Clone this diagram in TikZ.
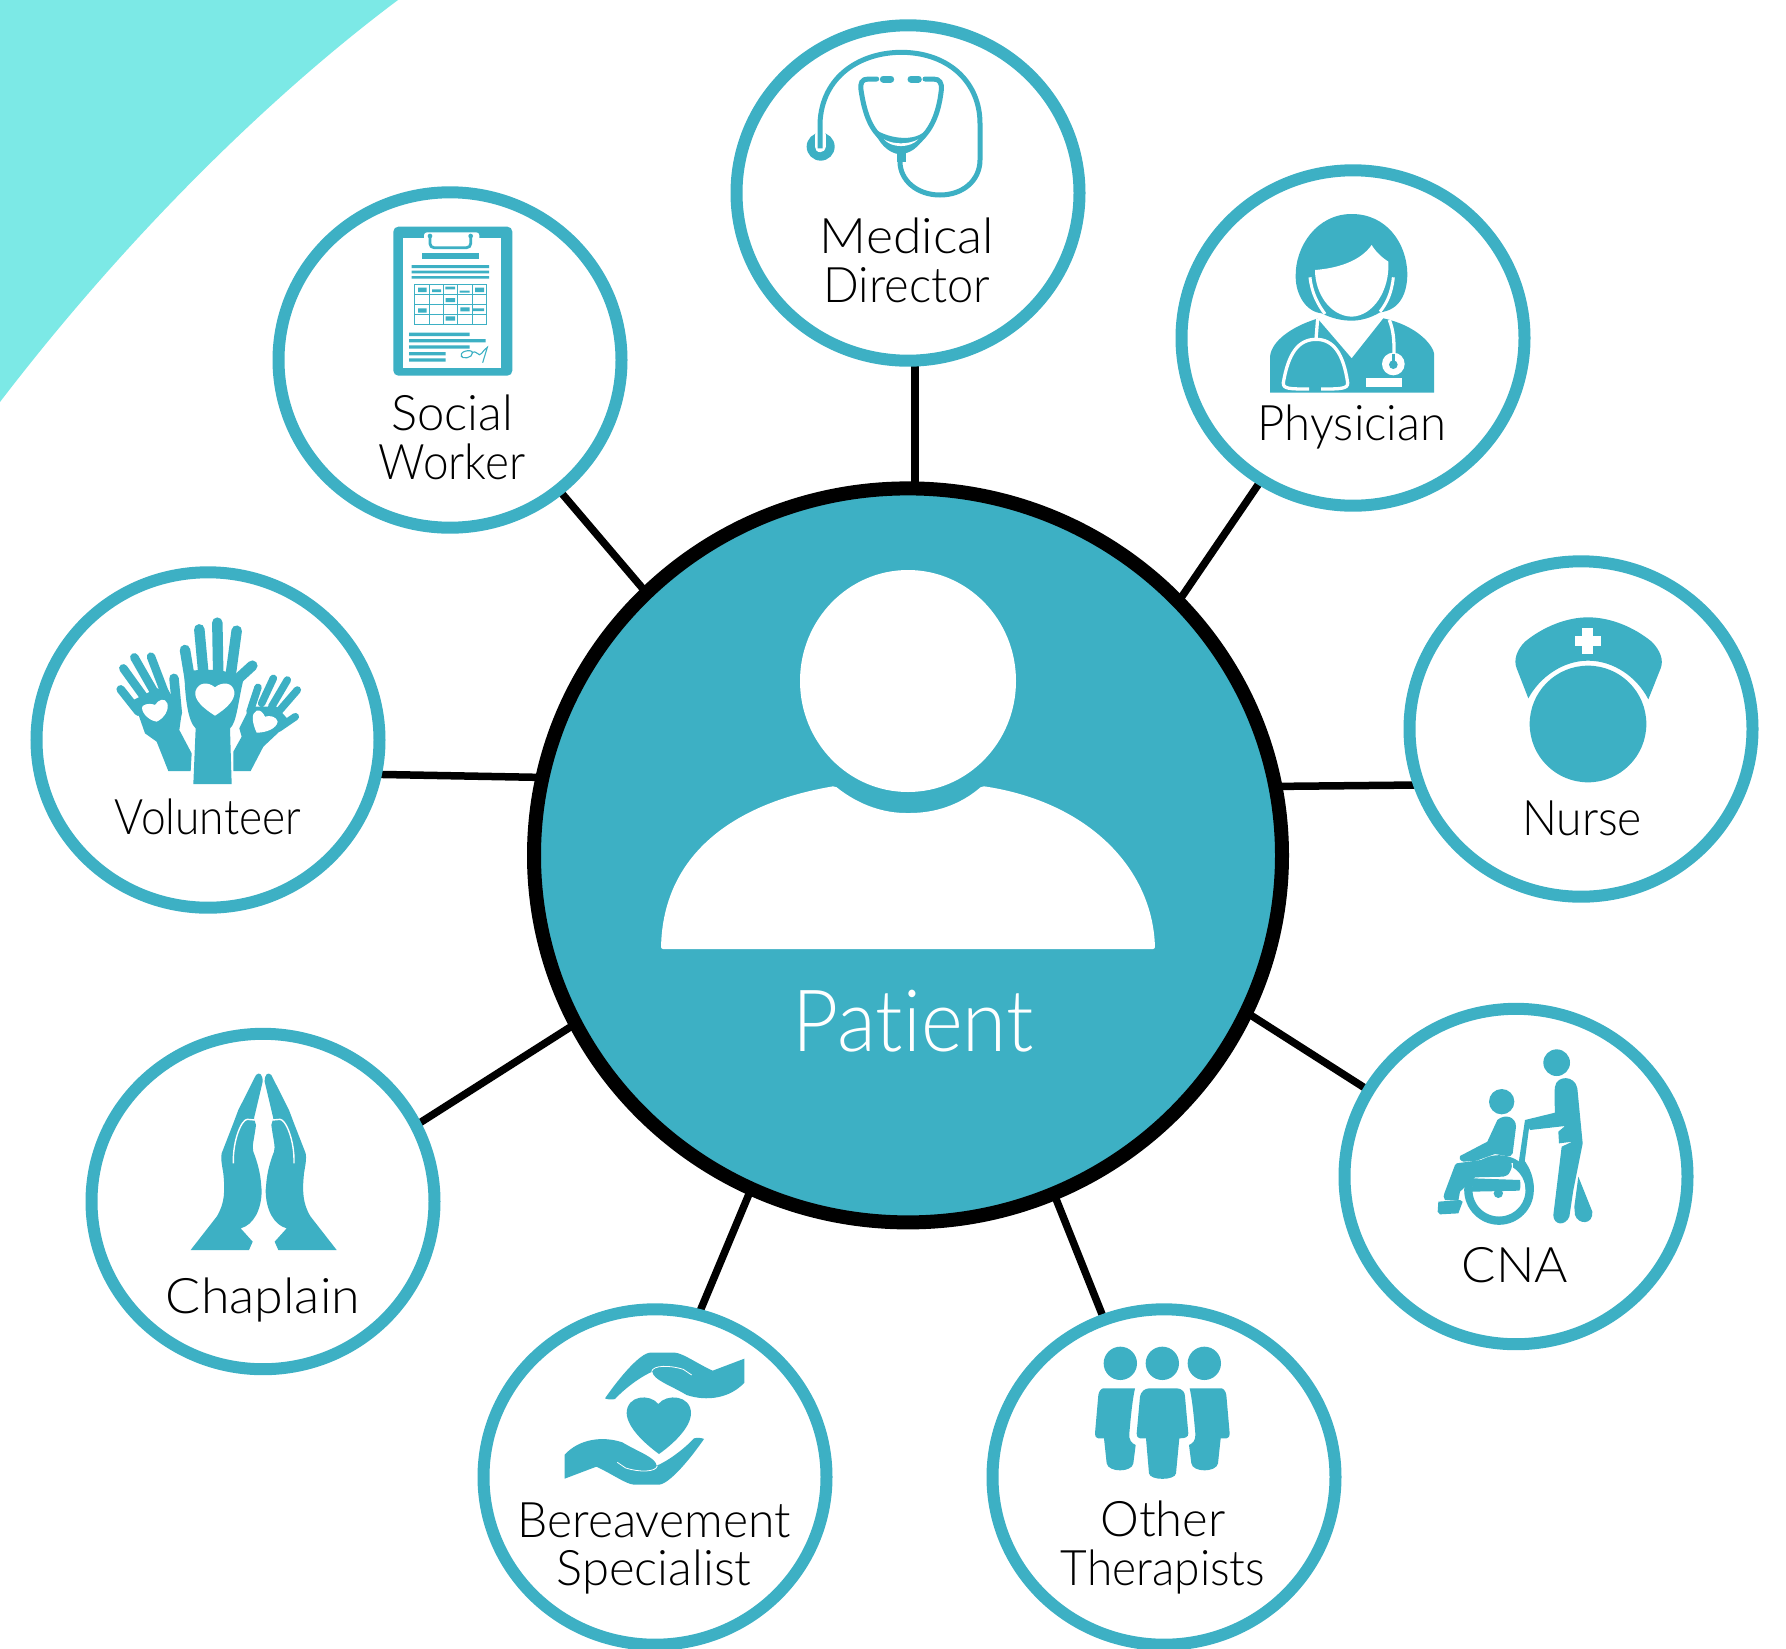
\documentclass[tikz,border=0pt]{standalone}
\usepackage{fontspec}
\usetikzlibrary{backgrounds,shapes.geometric}
\newfontfamily\labfont[Ligatures=NoCommon]{Lato Light}
\definecolor{tealc}{HTML}{3DB0C4}
\definecolor{cornerc}{HTML}{7CE9E6}
\tikzset{
  member/.style={ellipse,draw=tealc,line width=12pt,fill=white,minimum width=343pt,minimum height=335.4pt,inner sep=0pt,outer sep=0pt},
  hub/.style={ellipse,draw=black,line width=14pt,fill=tealc,minimum width=748pt,minimum height=734pt,inner sep=0pt,outer sep=0pt},
  link/.style={draw=black,line width=7.5pt},
  lab/.style={font=\labfont\fontsize{49}{49}\selectfont,text=black,inner sep=0pt,anchor=base},
  icon/.style={shift={#1},scale=0.33333},
}
\begin{document}
\begin{tikzpicture}[x=1pt,y=-1pt]
\useasboundingbox (0,0) rectangle (1786,1649);
% nodes
\node[hub] (pat) at (908,855.4) {};
\node[member] (med) at (908,193) {};
\node[member] (phy) at (1353,338) {};
\node[member] (nur) at (1581,729) {};
\node[member] (cna) at (1516,1176.5) {};
\node[member] (oth) at (1164,1477) {};
\node[member] (ber) at (655,1477) {};
\node[member] (cha) at (263,1201.5) {};
\node[member] (vol) at (208,740) {};
\node[member] (soc) at (450,360) {};
\begin{pgfonlayer}{background}
\fill[cornerc] (0,0) -- (398,0) .. controls (275,92) and (130,232) .. (0,402) -- cycle;
\draw[link] ([shift={(7,-365)}]pat.center) -- ([shift={(7,168)}]med.center);
\draw[link] ([shift={(-260.6,-261.4)}]pat.center) -- ([shift={(107.6,128.4)}]soc.center);
\draw[link] ([shift={(270.6,-254)}]pat.center) -- ([shift={(-91,141)}]phy.center);
\draw[link] ([shift={(370,-69)}]pat.center) -- ([shift={(-163,56)}]nur.center);
\draw[link] ([shift={(340,158)}]pat.center) -- ([shift={(-148,-86.5)}]cna.center);
\draw[link] ([shift={(146,338.5)}]pat.center) -- ([shift={(-59.3,-156)}]oth.center);
\draw[link] ([shift={(-157.7,335.5)}]pat.center) -- ([shift={(43.2,-161.5)}]ber.center);
\draw[link] ([shift={(-333.5,169)}]pat.center) -- ([shift={(153.4,-76.5)}]cha.center);
\draw[link] ([shift={(-367,-78)}]pat.center) -- ([shift={(170,34.4)}]vol.center);
\end{pgfonlayer}
% patient figure
\fill[white] (908,681) ellipse (108 and 111);
\fill[white,rounded corners=2pt] (661,949) .. controls (663,850) and (740,802) .. (835,786) .. controls (860,806) and (885,813) .. (908,813) .. controls (935,813) and (960,805) .. (982,786) .. controls (1090,802) and (1153,870) .. (1155,949) -- cycle;
\node[lab,font=\labfont\fontsize{86}{86}\selectfont,text=white,xscale=0.93] (tpat) at (913,1051) {Patient};
% labels
\node[lab,xscale=1.056] (t1a) at (907,253) {Medical};
\node[lab,xscale=0.96] (t1b) at (907,302) {Director};
\node[lab,xscale=0.965] (t2) at (1352,440) {Physician};
\node[lab,xscale=0.945] (t3) at (1582,835) {Nurse};
\node[lab,xscale=1.04] (t4) at (1515,1282.5) {CNA};
\node[lab] (t5a) at (1163,1536) {Other};
\node[lab,xscale=0.94] (t5b) at (1163,1585) {Therapists};
\node[lab,xscale=0.98] (t6a) at (654,1537.5) {Bereavement};
\node[lab] (t6b) at (654,1585.5) {Specialist};
\node[lab,xscale=1.06] (t7) at (263,1313) {Chaplain};
\node[lab,xscale=0.905] (t8) at (208,834) {Volunteer};
\node[lab] (t9a) at (452,430.5) {Social};
\node[lab,xscale=0.935] (t9b) at (452,479.5) {Worker};
% stethoscope
\begin{scope}[icon={(760,20)}]
\fill[tealc] (182,380) circle (42);
\draw[white,line width=11pt,line cap=round] (180,345) -- (180,380);
\draw[tealc,line width=5pt] (180,385) -- (180,310) .. controls (185,170) and (300,95) .. (430,97) .. controls (570,100) and (660,190) .. (660,310) -- (660,420) .. controls (660,480) and (610,525) .. (540,525) .. controls (470,525) and (420,480) .. (420,425) -- (420,395);
\draw[tealc,line width=5pt,line cap=round] (350,177) -- (325,177) .. controls (305,177) and (300,190) .. (303,210) .. controls (315,290) and (335,330) .. (370,360) .. controls (405,395) and (445,395) .. (480,360) .. controls (510,330) and (535,290) .. (544,210) .. controls (546,190) and (540,177) .. (520,177) -- (495,177);
\draw[tealc,line width=7pt,line cap=round] (370,177) -- (392,177) (453,177) -- (475,177);
\fill[tealc] (338,322) .. controls (370,352) and (470,375) .. (505,322) .. controls (490,370) and (460,400) .. (420,403) .. controls (385,400) and (355,370) .. (338,322) -- cycle;
\fill[white] (372,358) .. controls (400,374) and (445,374) .. (475,358) .. controls (450,385) and (395,385) .. (372,358) -- cycle;
\fill[tealc] (410,395) rectangle (438,425);
\end{scope}
% physician
\begin{scope}[icon={(1230,190)}]
\fill[tealc] (365,72) .. controls (470,72) and (530,160) .. (532,250) .. controls (532,310) and (510,360) .. (450,367) .. controls (420,385) and (390,392) .. (365,392) .. controls (335,392) and (305,385) .. (275,370) .. controls (225,365) and (197,310) .. (197,260) .. controls (195,170) and (260,72) .. (365,72) -- cycle;
\fill[white] (255,240) .. controls (320,235) and (390,215) .. (425,165) .. controls (440,190) and (460,205) .. (475,215) .. controls (480,300) and (430,378) .. (365,380) .. controls (300,378) and (255,310) .. (255,240) -- cycle;
\draw[white,line width=3pt] (240,262) .. controls (245,310) and (265,345) .. (285,372);
\draw[white,line width=3pt] (490,262) .. controls (485,310) and (470,340) .. (450,365);
\fill[tealc] (120,608) -- (120,500) .. controls (125,450) and (190,410) .. (250,390) -- (262,385) -- (365,505) -- (460,385) -- (480,390) .. controls (570,415) and (610,470) .. (612,490) -- (612,608) -- cycle;
\draw[white,line width=3.3pt] (263,385) -- (258,448);
\draw[white,line width=3.3pt] (237,597) .. controls (180,597) and (158,597) .. (160,578) .. controls (175,490) and (205,448) .. (258,448) .. controls (310,448) and (340,490) .. (353,578) .. controls (355,597) and (330,597) .. (273,597);
\draw[white,line width=3.3pt] (478,390) .. controls (490,420) and (493,450) .. (492,495);
\fill[white] (490,522) circle (34);
\fill[tealc] (490,524) circle (13);
\draw[tealc,line width=3pt] (490,492) -- (490,524);
\fill[white] (407,565) rectangle (515,592);
\end{scope}
% nurse
\begin{scope}[icon={(1490,600)}]
\fill[tealc] (294,372) circle (175);
\fill[tealc] (115,295) -- (80,205) .. controls (70,180) and (80,150) .. (105,125) .. controls (160,80) and (230,52) .. (294,52) .. controls (360,52) and (430,80) .. (485,125) .. controls (510,150) and (522,180) .. (512,205) -- (475,298) .. controls (440,230) and (370,182) .. (294,182) .. controls (220,182) and (150,230) .. (115,295) -- cycle;
\fill[white] (277,84) rectangle (310,162);
\fill[white] (254,107) rectangle (333,139);
\end{scope}
% CNA
\begin{scope}[icon={(1410,1030)}]
\fill[tealc] (440,98) circle (40);
\fill[tealc] (275,215) circle (38);
\draw[tealc,line width=8.3pt] (267,480) circle (92);
\fill[white] (190,400) rectangle (310,480);
\draw[tealc,line width=8.3pt] (330,395) .. controls (350,420) and (360,450) .. (359,480);
\fill[tealc] (150,378) -- (232,335) -- (262,270) .. controls (285,250) and (318,260) .. (318,290) -- (308,370) .. controls (306,378) and (298,380) .. (290,378) -- (255,372) -- (200,392) -- (160,395) .. controls (148,390) and (148,385) .. (150,378) -- cycle;
\fill[tealc] (140,400) -- (270,382) .. controls (305,380) and (312,405) .. (300,425) .. controls (295,435) and (290,438) .. (280,440) -- (195,442) -- (150,485) -- (145,512) -- (105,510) .. controls (100,505) and (100,495) .. (103,490) -- (135,405) -- cycle;
\fill[tealc] (190,445) -- (330,450) .. controls (332,465) and (332,475) .. (328,482) -- (185,485) -- cycle;
\fill[tealc] (265,490) circle (14);
\fill[tealc] (85,515) -- (150,510) -- (158,515) -- (145,550) -- (90,553) -- (83,545) -- cycle;
\fill[tealc] (345,270) -- (360,272) -- (342,410) -- (325,405) -- cycle;
\fill[tealc] (345,270) -- (435,248) .. controls (433,200) and (433,185) .. (435,170) .. controls (440,135) and (495,135) .. (502,175) -- (518,340) -- (490,480) -- (478,560) .. controls (465,590) and (430,585) .. (430,555) -- (455,350) -- (487,335) -- (447,340) -- (445,305) -- (465,288) -- (360,300) -- cycle;
\fill[tealc] (505,440) -- (547,545) .. controls (550,585) and (505,585) .. (495,555) -- (493,530) -- cycle;
\end{scope}
% other therapists
\begin{scope}[icon={(1070,1330)}]
\foreach \hx in {151,277,403} {\fill[tealc] (\hx,100) circle (50);}
\fill[tealc] (237,175) -- (318,175) .. controls (340,175) and (345,190) .. (345,200) -- (355,310) .. controls (355,322) and (345,325) .. (328,325) -- (318,430) .. controls (315,452) and (240,452) .. (237,430) -- (228,325) -- (210,325) .. controls (200,322) and (200,315) .. (200,310) -- (210,200) .. controls (212,185) and (225,175) .. (237,175) -- cycle;
\fill[tealc] (100,175) -- (195,175) .. controls (185,220) and (180,290) .. (178,310) .. controls (176,330) and (185,340) .. (197,345) -- (190,400) .. controls (186,428) and (115,428) .. (110,400) -- (102,325) -- (85,325) .. controls (75,322) and (75,315) .. (75,310) -- (85,195) .. controls (87,182) and (95,175) .. (100,175) -- cycle;
\fill[tealc] (454,175) -- (359,175) .. controls (369,220) and (374,290) .. (376,310) .. controls (378,330) and (369,340) .. (357,345) -- (364,400) .. controls (368,428) and (439,428) .. (444,400) -- (452,325) -- (469,325) .. controls (479,322) and (479,315) .. (479,310) -- (469,195) .. controls (467,182) and (459,175) .. (454,175) -- cycle;
\end{scope}
% bereavement
\begin{scope}[icon={(540,1330)}]
\fill[tealc] (355,222) .. controls (330,190) and (260,195) .. (260,250) .. controls (262,295) and (320,345) .. (357,372) .. controls (395,345) and (452,295) .. (453,250) .. controls (453,195) and (380,190) .. (355,222) -- cycle;
\foreach \sx/\ox/\oy in {1/0/0,-1/687/532} {
\begin{scope}[shift={(\ox,\oy)},xscale=\sx,yscale=\sx]
\fill[tealc] (195,205) .. controls (240,140) and (300,70) .. (330,68) -- (405,68) .. controls (430,70) and (470,100) .. (518,122) -- (613,86) -- (613,158) .. controls (570,205) and (500,215) .. (440,195) .. controls (390,165) and (340,150) .. (337,125) .. controls (290,145) and (240,190) .. (225,207) .. controls (215,210) and (200,208) .. (195,205) -- cycle;
\draw[white,line width=0.8pt] (335,125) .. controls (338,105) and (390,105) .. (430,118) -- (455,135);
\end{scope}}
\end{scope}
% chaplain
\begin{scope}[icon={(170,1050)}]
\foreach \sx/\ox in {1/0,-1/562} {
\begin{scope}[shift={(\ox,0)},xscale=\sx]
\fill[tealc] (62,600) -- (140,500) .. controls (165,460) and (165,420) .. (160,370) .. controls (155,340) and (152,325) .. (155,310) -- (190,220) -- (205,180) -- (258,75) .. controls (268,65) and (278,72) .. (278,95) -- (252,205) -- (258,225) .. controls (252,270) and (245,290) .. (250,305) .. controls (275,370) and (272,400) .. (275,420) .. controls (275,480) and (250,525) .. (212,535) -- (248,575) -- (237,600) -- cycle;
\draw[white,line width=1.4pt] (190,340) .. controls (188,270) and (215,208) .. (232,208) -- (255,210);
\end{scope}}
\end{scope}
% volunteer
\begin{scope}[icon={(90,600)}]
\foreach \a/\b/\w in {285/150/300,328/88/342,382/68/385,440/92/420,487/197/440} {\draw[tealc,line width=10.5pt,line cap=round] (\a,\b) -- (\w,240);}
\fill[tealc] (283,215) .. controls (350,205) and (420,205) .. (460,240) .. controls (445,300) and (440,370) .. (420,385) -- (425,552) -- (310,552) -- (317,385) .. controls (295,365) and (285,300) .. (283,215) -- cycle;
\fill[white] (375,347) .. controls (340,325) and (312,300) .. (316,275) .. controls (325,245) and (355,245) .. (375,262) .. controls (395,245) and (428,245) .. (433,275) .. controls (436,300) and (410,325) .. (375,347) -- cycle;
\draw[tealc,line width=8.5pt,line cap=round] (92,268) -- (145,335) (100,205) -- (165,295) (133,172) -- (195,280) (183,170) -- (225,280);
\draw[tealc,line width=9.5pt,line cap=round] (252,235) -- (262,340);
\fill[tealc] (130,300) -- (200,265) -- (235,270) -- (275,340) -- (268,390) -- (305,460) -- (302,513) -- (235,513) -- (200,425) -- (165,400) -- cycle;
\fill[white] (200,365) .. controls (170,360) and (150,330) .. (158,318) .. controls (170,308) and (190,312) .. (195,315) .. controls (205,298) and (225,292) .. (232,310) .. controls (238,330) and (222,355) .. (200,365) -- cycle;
\draw[tealc,line width=7.5pt,line cap=round] (504,262) -- (480,335) (550,235) -- (515,310) (592,240) -- (545,320) (622,270) -- (570,330) (616,350) -- (565,385);
\fill[tealc] (480,320) -- (560,320) -- (600,365) -- (520,440) -- (482,513) -- (430,513) -- (430,455) -- (455,410) -- (448,385) -- cycle;
\fill[white] (500,398) .. controls (487,370) and (482,340) .. (500,332) .. controls (512,328) and (520,340) .. (525,350) .. controls (540,345) and (560,350) .. (563,365) .. controls (560,385) and (530,398) .. (500,398) -- cycle;
\end{scope}
% clipboard
\begin{scope}[icon={(350,200)}]
\fill[tealc,rounded corners=5pt] (130,80) rectangle (487,527);
\fill[white] (160,115) rectangle (452,505);
\fill[white,rounded corners=3pt] (222,97) rectangle (388,125);
\draw[tealc,line width=2.8pt,rounded corners=4pt] (240,108) -- (240,143) -- (362,143) -- (362,108);
\fill[tealc] (240,108) circle (7) (362,108) circle (7);
\fill[tealc] (215,160) rectangle (387,178);
\fill[tealc] (185,195) rectangle (417,204) (185,212) rectangle (417,220) (185,228) rectangle (417,236);
\draw[tealc,line width=1pt] (193,253) rectangle (410,373);
\foreach \cx in {238,281,323,366} {\draw[tealc,line width=1pt] (\cx,253) -- (\cx,373);}
\foreach \ry in {284,314,343} {\draw[tealc,line width=1pt] (193,\ry) -- (410,\ry);}
\fill[tealc] (204,263) rectangle (230,276) (246,268) rectangle (273,276) (286,260) rectangle (315,268) (329,272) rectangle (359,278) (375,263) rectangle (402,276);
\fill[tealc] (287,294) rectangle (315,306) (204,325) rectangle (230,338) (331,322) rectangle (359,334) (369,325) rectangle (402,333) (287,349) rectangle (315,362);
\fill[tealc] (177,398) rectangle (359,408) (177,417) rectangle (407,427) (177,436) rectangle (359,446) (177,456) rectangle (287,466) (177,475) rectangle (287,485);
\draw[tealc,line width=1.1pt] (338,472) .. controls (320,455) and (365,445) .. (368,458) .. controls (368,475) and (335,478) .. (333,468) (365,460) .. controls (380,445) and (385,475) .. (395,460) .. controls (400,450) and (405,450) .. (412,442) -- (398,488);
\end{scope}
\end{tikzpicture}
\end{document}
